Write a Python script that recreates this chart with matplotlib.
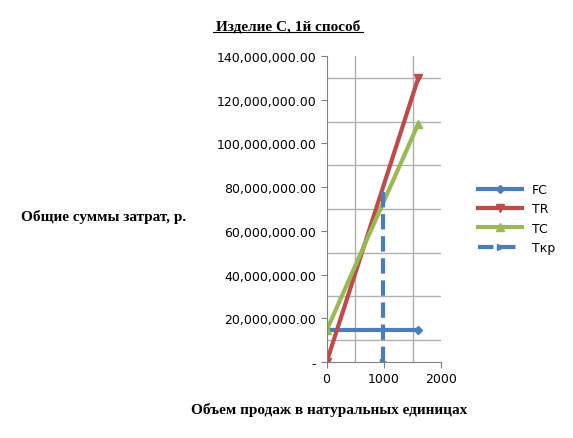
import matplotlib
matplotlib.use("Agg")
import matplotlib.pyplot as plt
import matplotlib.lines as ml
from matplotlib.ticker import FuncFormatter, MultipleLocator

q = [0, 200, 400, 600, 800, 1000, 1200, 1400, 1600]
fc = [14.5e6] * 9
tr = [0, 16.25e6, 32.5e6, 48.75e6, 65e6, 81.25e6, 97.5e6, 113.75e6, 130e6]
tc = [14.5e6, 26.3e6, 38.1e6, 50.0e6, 61.8e6, 73.6e6, 85.4e6, 97.2e6, 109e6]
tkr_x = [985, 985]
tkr_y = [0, 80e6]

fig = plt.figure(figsize=(5.73, 4.39), dpi=100)
ax = fig.add_axes([0.57, 0.173, 0.2, 0.697])
ax.plot(q, fc, color='#4a7ebb', lw=3, marker='D', ms=4, markevery=[0, -1], label='FC')
ax.plot(q, tr, color='#be4b48', lw=3, marker='v', ms=6, markevery=[0, -1], label='TR')
ax.plot(q, tc, color='#98b954', lw=3, marker='^', ms=6, markevery=[0, -1], label='TC')
ax.plot(tkr_x, tkr_y, color='#4a7ebb', lw=3, ls='--', marker='>', ms=5, markevery=[0], label='Tкр')
ax.set_xlim(0, 2000)
ax.set_ylim(0, 140e6)
ax.xaxis.set_major_locator(MultipleLocator(1000))
ax.yaxis.set_major_locator(MultipleLocator(20e6))
ax.xaxis.set_minor_locator(MultipleLocator(500))
ax.yaxis.set_minor_locator(MultipleLocator(10e6))
ax.grid(which='minor', color='#b0b0b0', lw=1)
ax.tick_params(which='minor', length=0)
ax.tick_params(which='major', direction='out', length=4, labelsize=9, color='#808080')
ax.yaxis.set_major_formatter(FuncFormatter(lambda v, p: '-' if v == 0 else f'{v:,.2f}'))
for s in ['top', 'right']:
    ax.spines[s].set_visible(False)
for s in ['left', 'bottom']:
    ax.spines[s].set_color('#808080')
fig.text(0.503, 0.93, 'Изделие С, 1й способ', ha='center', fontsize=11, fontweight='bold',
         family='Liberation Serif')
fig.add_artist(ml.Line2D([0.371, 0.633], [0.924, 0.924], color='black', lw=0.8))
fig.text(0.18, 0.505, 'Общие суммы затрат, р.', ha='center', va='center', fontsize=11,
         fontweight='bold', family='Liberation Serif')
fig.text(0.575, 0.058, 'Объем продаж в натуральных единицах', ha='center', fontsize=11,
         fontweight='bold', family='Liberation Serif')
fig.legend(loc='center left', bbox_to_anchor=(0.815, 0.5), frameon=False, fontsize=9,
           handlelength=3.5, labelspacing=0.5)
fig.savefig('out.png', dpi=100)
